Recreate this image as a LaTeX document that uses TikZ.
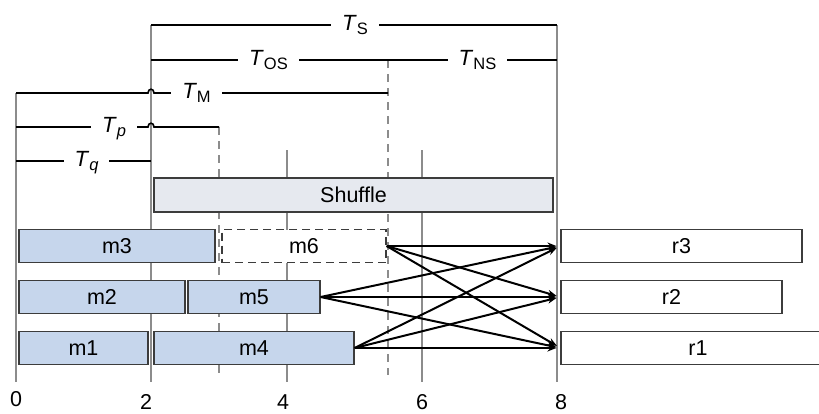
\documentclass[tikz,border=0pt]{standalone}
\usepackage{fontspec}
\setmainfont{Liberation Sans}
\usetikzlibrary{arrows.meta}
\definecolor{vgray}{RGB}{140,140,140}
\definecolor{edge}{RGB}{60,60,60}
\definecolor{mapfill}{RGB}{198,214,236}
\definecolor{shufill}{RGB}{230,233,239}
% italic T with a smaller subscript
\newcommand\tsub[1]{\textit{T}\raisebox{-4.5pt}{\fontsize{16.5}{16.5}\selectfont #1}}

\begin{document}
\begin{tikzpicture}[x=1pt,y=-1pt,
  grid/.style={draw=vgray,line width=1.8pt},
  gridd/.style={grid,dash pattern=on 8pt off 6pt},
  span/.style={draw=black,line width=1.6pt},
  lab/.style={fill=white,inner xsep=11pt,inner ysep=1pt,anchor=base,font=\fontsize{22}{22}\selectfont},
  task/.style={draw=edge,line width=1.2pt,minimum height=33pt,inner sep=0pt,font=\fontsize{21.5}{21.5}\selectfont},
  mtask/.style={task,fill=mapfill},
  rtask/.style={task,fill=white},
  flow/.style={draw=black,line width=2pt,-{Stealth[length=9pt,width=7pt]},shorten >=4pt},
  tick/.style={anchor=base,inner sep=0pt,font=\fontsize{21.5}{21.5}\selectfont}]
\useasboundingbox[fill=white] (0,0) rectangle (819,413);

% time grid
\draw[grid] (16,93) -- (16,382);
\draw[grid] (151,25) -- (151,382);
\draw[grid] (287,150) -- (287,382);
\draw[grid] (422,150) -- (422,382);
\draw[grid] (557,25) -- (557,382);
\draw[gridd] (219,127) -- (219,375);
\draw[gridd] (388,60) -- (388,375);

% interval brackets
\draw[span] (151,25) -- (557,25);
\draw[span] (151,60) -- (557,60);
\draw[span] (16,93) -- (148,93) .. controls (148,88) and (154,88) .. (154,93) -- (388,93);
\draw[span] (16,127) -- (148,127) .. controls (148,122) and (154,122) .. (154,127) -- (219,127);
\draw[span] (16,161) -- (151,161);

\node[lab] (ts)  at (355,30)   {\tsub{S}};
\node[lab] (tos) at (268.5,65) {\tsub{OS}};
\node[lab] (tns) at (477.5,65) {\tsub{NS}};
\node[lab] (tm)  at (196.5,98) {\tsub{M}};
\node[lab] (tp)  at (114,132)  {\tsub{\textit{p}}};
\node[lab] (tq)  at (86.5,166) {\tsub{\textit{q}}};

% shuffle phase
\node[task,fill=shufill,minimum width=399pt,minimum height=34pt] (shuffle) at (353.5,195) {Shuffle};

% map tasks
\node[mtask,minimum width=196pt] (m3) at (117,246) {m3};
\node[task,fill=white,dash pattern=on 8pt off 5pt,minimum width=164pt] (m6) at (304,246) {m6};
\node[mtask,minimum width=166pt] (m2) at (102,297) {m2};
\node[mtask,minimum width=132pt] (m5) at (254,297) {m5};
\node[mtask,minimum width=129pt] (m1) at (83.5,348) {m1};
\node[mtask,minimum width=200pt] (m4) at (254,348) {m4};

% reduce tasks
\node[rtask,minimum width=241pt] (r3) at (681.5,246) {r3};
\node[rtask,minimum width=221pt] (r2) at (671.5,297) {r2};
\node[rtask,minimum width=274pt] (r1) at (698,348) {r1};

% shuffle transfers
\foreach \s in {m6,m5,m4}
  \foreach \t in {r3,r2,r1}
    \draw[flow] (\s.east) -- (\t.west);

% axis numbers
\node[tick] (n0) at (16,406)  {0};
\node[tick] (n2) at (146,409) {2};
\node[tick] (n4) at (283,409) {4};
\node[tick] (n6) at (422,409) {6};
\node[tick] (n8) at (561,409) {8};
\end{tikzpicture}
\end{document}
